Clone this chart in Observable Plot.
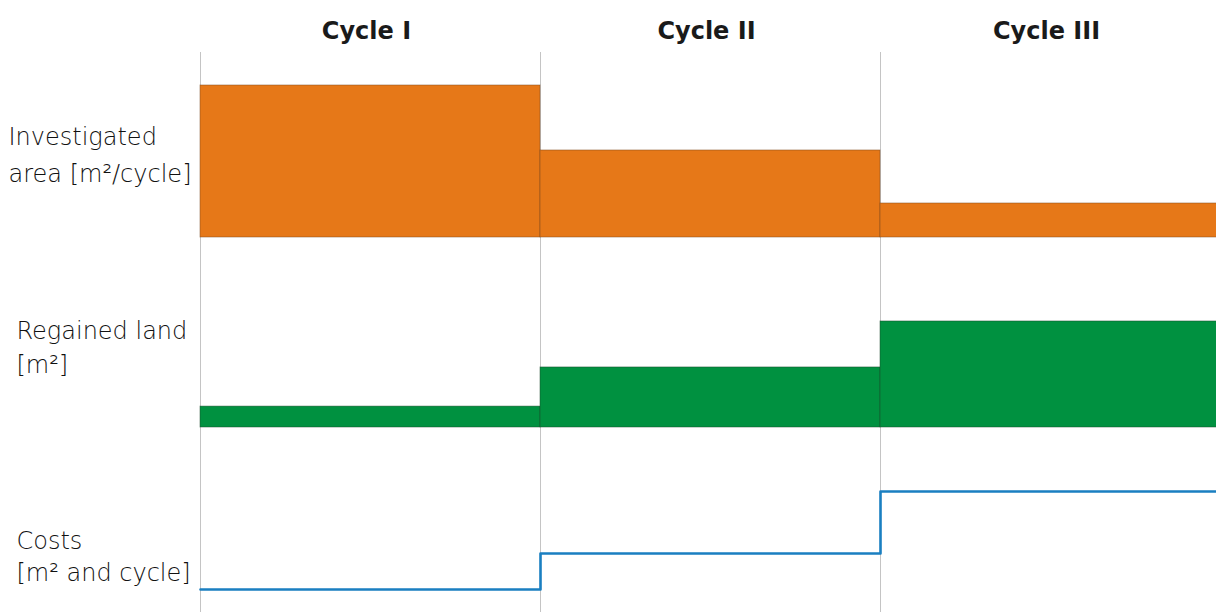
<!DOCTYPE html>
<html>
<head>
<meta charset="utf-8">
<script src="https://cdn.jsdelivr.net/npm/d3@7"></script>
<script src="https://cdn.jsdelivr.net/npm/@observablehq/plot@0.6"></script>
<style>
  html, body { margin: 0; padding: 0; background: #fff; }
  #chart { width: 1216px; height: 612px; overflow: hidden; }
</style>
</head>
<body>
<div id="chart"></div>
<script>
// ---- data (relative units, 0–100 per panel) ----
const cycles = ["Cycle I", "Cycle II", "Cycle III"];
const rows = ["area", "land", "costs"];
const rowLabels = ["Investigated\narea [m²/cycle]", "Regained land\n[m²]", "Costs\n[m² and cycle]"];
const investigatedArea = [80, 45.8, 17.9];
const regainedLand = [11, 31.6, 55.8];
const costs = [14.7, 33.7, 66.3];

// ---- tables built from the arrays ----
const areaData = investigatedArea.map((v, i) => ({ i, value: v, row: "area" }));
const landData = regainedLand.map((v, i) => ({ i, value: v, row: "land" }));
const costSteps = [...costs, costs[costs.length - 1]].map((v, i) => ({ i, value: v, row: "costs" }));
const titleData = cycles.map((c, i) => ({ c, i, row: "area" }));
const ruleData = rows.flatMap(r => cycles.map((c, i) => ({ i, row: r })));

const labelMark = (k, dx, dy, lh) => Plot.text([rowLabels[k]], {
  text: d => d, fy: () => rows[k], frameAnchor: "left", textAnchor: "start",
  dx, dy, fontSize: 24, lineHeight: lh, fill: "#111", fontWeight: 300
});

const chart = Plot.plot({
  width: 1216,
  height: 612,
  marginTop: 47,
  marginBottom: -5,
  marginLeft: 200,
  marginRight: 0,
  style: { fontFamily: "'DejaVu Sans', sans-serif", background: "#fff", overflow: "hidden" },
  x: { domain: [0, 3], range: [200, 1220], axis: null },
  y: { domain: [0, 100], axis: null },
  fy: { domain: rows, axis: null, padding: 0 },
  marks: [
    Plot.ruleX(ruleData.filter(d => d.row === "area"), { x: "i", fy: "row", stroke: "#c4c4c4", strokeWidth: 1, insetTop: 5 }),
    Plot.ruleX(ruleData.filter(d => d.row !== "area"), { x: "i", fy: "row", stroke: "#c4c4c4", strokeWidth: 1 }),
    Plot.rectY(areaData, { x1: "i", x2: d => d.i + 1, y: "value", fy: "row",
      fill: "#e67818", stroke: "#7a4a1e", strokeWidth: 0.8, strokeOpacity: 0.6 }),
    Plot.rectY(landData, { x1: "i", x2: d => d.i + 1, y: "value", fy: "row",
      fill: "#009140", stroke: "#1d4a2c", strokeWidth: 0.8, strokeOpacity: 0.6 }),
    Plot.line(costSteps, { x: "i", y: "value", fy: "row", curve: "step-after",
      stroke: "#1a7fc1", strokeWidth: 2.6 }),
    Plot.text(titleData, { x: d => d.i + 0.5, text: "c", fy: "row", frameAnchor: "top",
      dx: -4, dy: -26, fontSize: 24, fontWeight: "bold", fill: "#1a1a1a" }),
    labelMark(0, -192, 9, 1.55),
    labelMark(1, -184, 13, 1.42),
    labelMark(2, -184, 32, 1.35)
  ]
});
document.getElementById("chart").appendChild(chart);
</script>
</body>
</html>
